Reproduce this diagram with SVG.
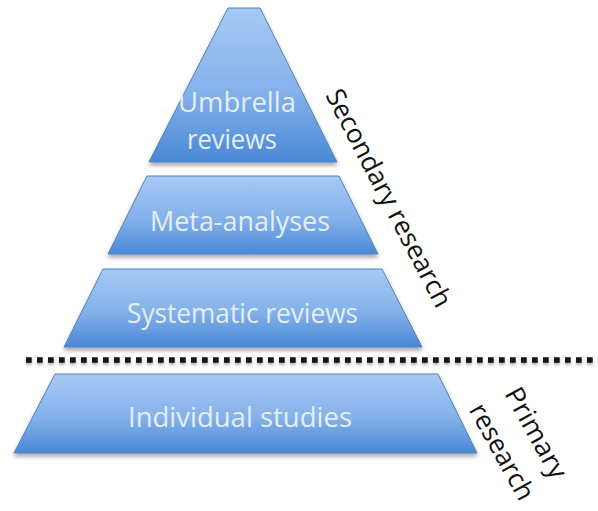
<svg xmlns="http://www.w3.org/2000/svg" width="598" height="511" viewBox="0 0 598 511">
  <defs>
    <linearGradient id="tierFill" x1="0" y1="0" x2="0" y2="1">
      <stop offset="0" stop-color="#a7c9f4"/>
      <stop offset="0.55" stop-color="#84b1ea"/>
      <stop offset="1" stop-color="#4a88d6"/>
    </linearGradient>
    <filter id="tierShadow" x="-10%" y="-10%" width="120%" height="130%">
      <feDropShadow dx="0" dy="3" stdDeviation="2.2" flood-color="#000" flood-opacity="0.35"/>
    </filter>
    <filter id="lineShadow" filterUnits="userSpaceOnUse" x="0" y="345" width="598" height="30">
      <feDropShadow dx="0" dy="2" stdDeviation="1.5" flood-color="#000" flood-opacity="0.35"/>
    </filter>
  </defs>
  <style>
    .tier { fill: url(#tierFill); stroke: #4f82c0; stroke-width: 1; filter: url(#tierShadow); }
    .tier-label { font-family: "Open Sans", "Liberation Sans", sans-serif; font-size: 26.5px; fill: #e4eefa; text-anchor: middle; }
    .side-label { font-family: "Open Sans", "Liberation Sans", sans-serif; font-size: 26.5px; fill: #111; text-anchor: middle; }
    .divider { stroke: #151515; stroke-width: 5.5; stroke-dasharray: 5.7 5.3; fill: none; filter: url(#lineShadow); }
  </style>
  <rect width="598" height="511" fill="#fff"/>

  <g id="umbrella-reviews">
    <polygon class="tier" points="228,8 260,8 337,162 149,162"/>
    <text class="tier-label" x="237" y="112" textLength="118" lengthAdjust="spacingAndGlyphs">Umbrella</text>
    <text class="tier-label" x="232" y="149" textLength="90" lengthAdjust="spacingAndGlyphs">reviews</text>
  </g>

  <g id="meta-analyses">
    <polygon class="tier" points="147,176 339,176 378,254 108,254"/>
    <text class="tier-label" x="240" y="231" textLength="180" lengthAdjust="spacingAndGlyphs">Meta-analyses</text>
  </g>

  <g id="systematic-reviews">
    <polygon class="tier" points="103,269 382,269 422,347 64,347"/>
    <text class="tier-label" x="242.5" y="323" textLength="231" lengthAdjust="spacingAndGlyphs">Systematic reviews</text>
  </g>

  <g id="individual-studies">
    <polygon class="tier" points="55,374 438,374 477,453 14,453"/>
    <text class="tier-label" x="240" y="427" textLength="224" lengthAdjust="spacingAndGlyphs">Individual studies</text>
  </g>

  <g id="connectors">
    <line class="divider" x1="26" y1="360" x2="598" y2="360"/>
  </g>

  <g id="secondary-research" transform="translate(387,199) rotate(62.5)">
    <text class="side-label" x="0" y="7" textLength="242" lengthAdjust="spacingAndGlyphs">Secondary research</text>
  </g>

  <g id="primary-research" transform="translate(516,444) rotate(61)">
    <text class="side-label" x="0" y="-14" textLength="100" lengthAdjust="spacingAndGlyphs">Primary</text>
    <text class="side-label" x="0" y="25" textLength="106" lengthAdjust="spacingAndGlyphs">research</text>
  </g>
</svg>
